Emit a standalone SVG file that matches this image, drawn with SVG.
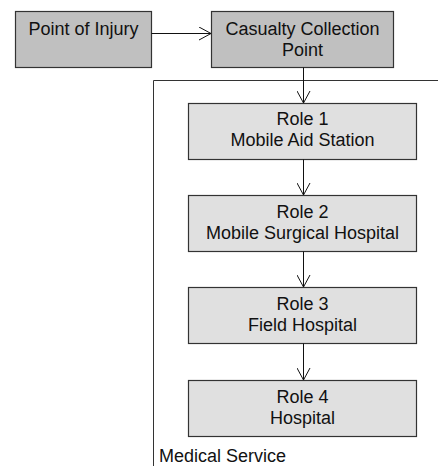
<svg xmlns="http://www.w3.org/2000/svg" width="438" height="466" viewBox="0 0 438 466">
  <style>
    .top rect { fill: #c0c0c0; stroke: #333; stroke-width: 1.2; }
    .role rect { fill: #e0e0e0; stroke: #333; stroke-width: 1.2; }
    text { font-family: "Liberation Sans", Arial, sans-serif; font-size: 18px; fill: #111; text-anchor: middle; }
    .edge { stroke: #111; stroke-width: 1; fill: none; }
    .frame { stroke: #333; stroke-width: 1; fill: none; }
  </style>
  <defs>
    <marker id="open" viewBox="0 0 14 14" refX="13" refY="7" markerWidth="14" markerHeight="14" markerUnits="userSpaceOnUse" orient="auto">
      <path d="M1,0.5 L13,7 L1,13.5" fill="none" stroke="#111" stroke-width="1"/>
    </marker>
  </defs>

  <!-- medical service boundary -->
  <g id="medical-service">
    <path class="frame" d="M438,80.5 H153.5 V466"/>
    <text x="159" y="462" style="text-anchor:start">Medical Service</text>
  </g>

  <g id="point-of-injury" class="top">
    <rect x="15.5" y="11.5" width="136" height="56"/>
    <text x="83.5" y="35">Point of Injury</text>
  </g>

  <g id="casualty-collection-point" class="top">
    <rect x="211.5" y="11.5" width="182" height="56"/>
    <text x="302.5" y="35">Casualty Collection</text>
    <text x="302.5" y="56">Point</text>
  </g>

  <g id="role-1" class="role">
    <rect x="188.5" y="103.5" width="228" height="56"/>
    <text x="302.5" y="125">Role 1</text>
    <text x="302.5" y="146">Mobile Aid Station</text>
  </g>

  <g id="role-2" class="role">
    <rect x="188.5" y="195.5" width="228" height="56"/>
    <text x="302.5" y="217.5">Role 2</text>
    <text x="302.5" y="238.5">Mobile Surgical Hospital</text>
  </g>

  <g id="role-3" class="role">
    <rect x="188.5" y="287.5" width="228" height="56"/>
    <text x="302.5" y="309.5">Role 3</text>
    <text x="302.5" y="330.5">Field Hospital</text>
  </g>

  <g id="role-4" class="role">
    <rect x="188.5" y="380.5" width="228" height="56"/>
    <text x="302.5" y="402.5">Role 4</text>
    <text x="302.5" y="423.5">Hospital</text>
  </g>

  <g id="connectors">
    <line class="edge" x1="151.5" y1="33.5" x2="211" y2="33.5" marker-end="url(#open)"/>
    <line class="edge" x1="303.5" y1="67.5" x2="303.5" y2="103" marker-end="url(#open)"/>
    <line class="edge" x1="303.5" y1="159.5" x2="303.5" y2="195" marker-end="url(#open)"/>
    <line class="edge" x1="303.5" y1="251.5" x2="303.5" y2="287" marker-end="url(#open)"/>
    <line class="edge" x1="303.5" y1="343.5" x2="303.5" y2="380" marker-end="url(#open)"/>
  </g>
</svg>
